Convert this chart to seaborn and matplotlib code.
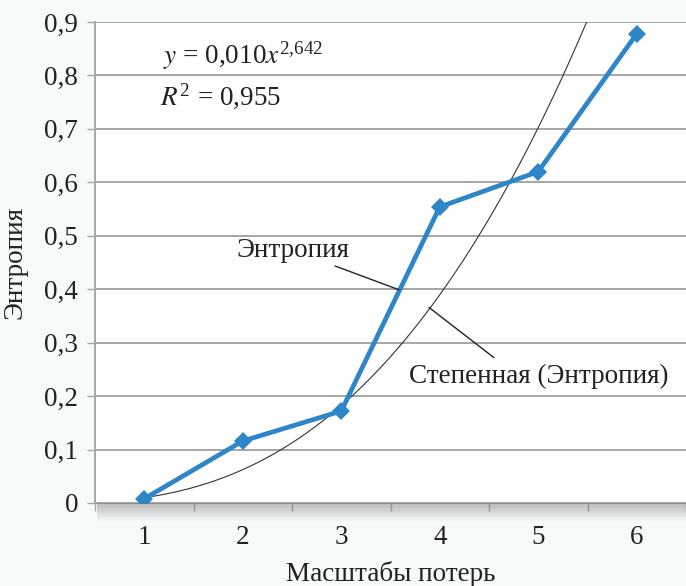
import numpy as np
import pandas as pd
import matplotlib
matplotlib.use("Agg")
import matplotlib.pyplot as plt
import seaborn as sns
from matplotlib.patches import Rectangle

# data
scales = [1, 2, 3, 4, 5, 6]
entropy = [0.008, 0.116, 0.172, 0.554, 0.620, 0.878]
fit_a = 0.010
fit_b = 2.642
fit_r2 = 0.955
y_ticks = [0, 0.1, 0.2, 0.3, 0.4, 0.5, 0.6, 0.7, 0.8, 0.9]

sns.set_style("white")
plt.rcParams['font.family'] = ['Liberation Serif', 'DejaVu Serif']
plt.rcParams['mathtext.fontset'] = 'stix'

df = pd.DataFrame({'x': scales, 'y': entropy})
xs = np.linspace(scales[0], scales[-1], 300)
trend = pd.DataFrame({'x': xs, 'y': fit_a * xs ** fit_b})

FS = 19.5
ink = '#222222'

fig = plt.figure(figsize=(6.86, 5.86), dpi=100, facecolor='#f7fafa')
ax = fig.add_axes([95 / 686, 1 - 503 / 586, 1 - 95 / 686, 481 / 586])
ax.set_facecolor('white')

# drop shadow under the plot area
for i in range(14):
    fig.patches.append(Rectangle((97 / 686, 1 - (504 + i * 1.3) / 586), 1, 1.3 / 586,
                                 transform=fig.transFigure, color='#707070',
                                 alpha=0.45 * (1 - i / 14), lw=0, zorder=0))

for t in y_ticks:
    ax.axhline(t, color='#a6a6a6', lw=1.4, zorder=1)

sns.lineplot(data=trend, x='x', y='y', ax=ax, color='#333333', lw=0.8, zorder=2)
sns.lineplot(data=df, x='x', y='y', ax=ax, color='#2e86c8', lw=3.4,
             marker='D', markersize=9, markeredgewidth=0, zorder=3)

ax.set_xlim(0.5, 6.5)
ax.set_ylim(0, 0.9)
ax.set_xticks(scales)
ax.set_xticks(np.arange(0.5, 7, 1), minor=True)
ax.set_yticks(y_ticks)
ax.set_yticklabels([('%g' % t).replace('.', ',') for t in y_ticks])
ax.tick_params(axis='x', which='major', length=0, labelsize=FS, pad=16, colors=ink)
ax.tick_params(axis='x', which='minor', length=6, width=1, color='#a6a6a6', direction='out', bottom=True)
ax.tick_params(axis='y', length=6, width=1, color='#a6a6a6', labelsize=FS, pad=6,
               left=True, labelcolor=ink)

for s in ['top', 'right']:
    ax.spines[s].set_visible(False)
for s in ['left', 'bottom']:
    ax.spines[s].set_color('#a6a6a6')
    ax.spines[s].set_linewidth(1.4)

ax.set_xlabel('Масштабы потерь', fontsize=FS, color=ink, labelpad=8)
ax.set_ylabel('Энтропия', fontsize=FS, color=ink, labelpad=12)

a_txt = ('%.3f' % fit_a).replace('.', ',')
b_txt = ('%.3f' % fit_b).replace('.', '{,}')
ax.text(0.115, 0.931, r'$y$ = ' + a_txt + r'$x^{\mathregular{' + b_txt + '}}$',
        transform=ax.transAxes, fontsize=FS, va='center', color=ink)
ax.text(0.110, 0.844, r'$R^{\mathregular{2}}$ = ' + ('%.3f' % fit_r2).replace('.', ','),
        transform=ax.transAxes, fontsize=FS, va='center', color=ink)

ax.annotate('Энтропия', xy=(3.586, 0.399), xytext=(3.08, 0.473), fontsize=FS,
            ha='right', va='center', color=ink,
            arrowprops=dict(arrowstyle='-', color=ink, lw=1, shrinkA=0, shrinkB=0))
ax.text(3.69, 0.236, 'Степенная (Энтропия)', fontsize=FS, ha='left', va='center', color=ink)
ax.plot([3.89, 4.55], [0.366, 0.272], color=ink, lw=1)

if ax.get_legend():
    ax.get_legend().remove()

fig.savefig('out.png', dpi=100, facecolor=fig.get_facecolor())
